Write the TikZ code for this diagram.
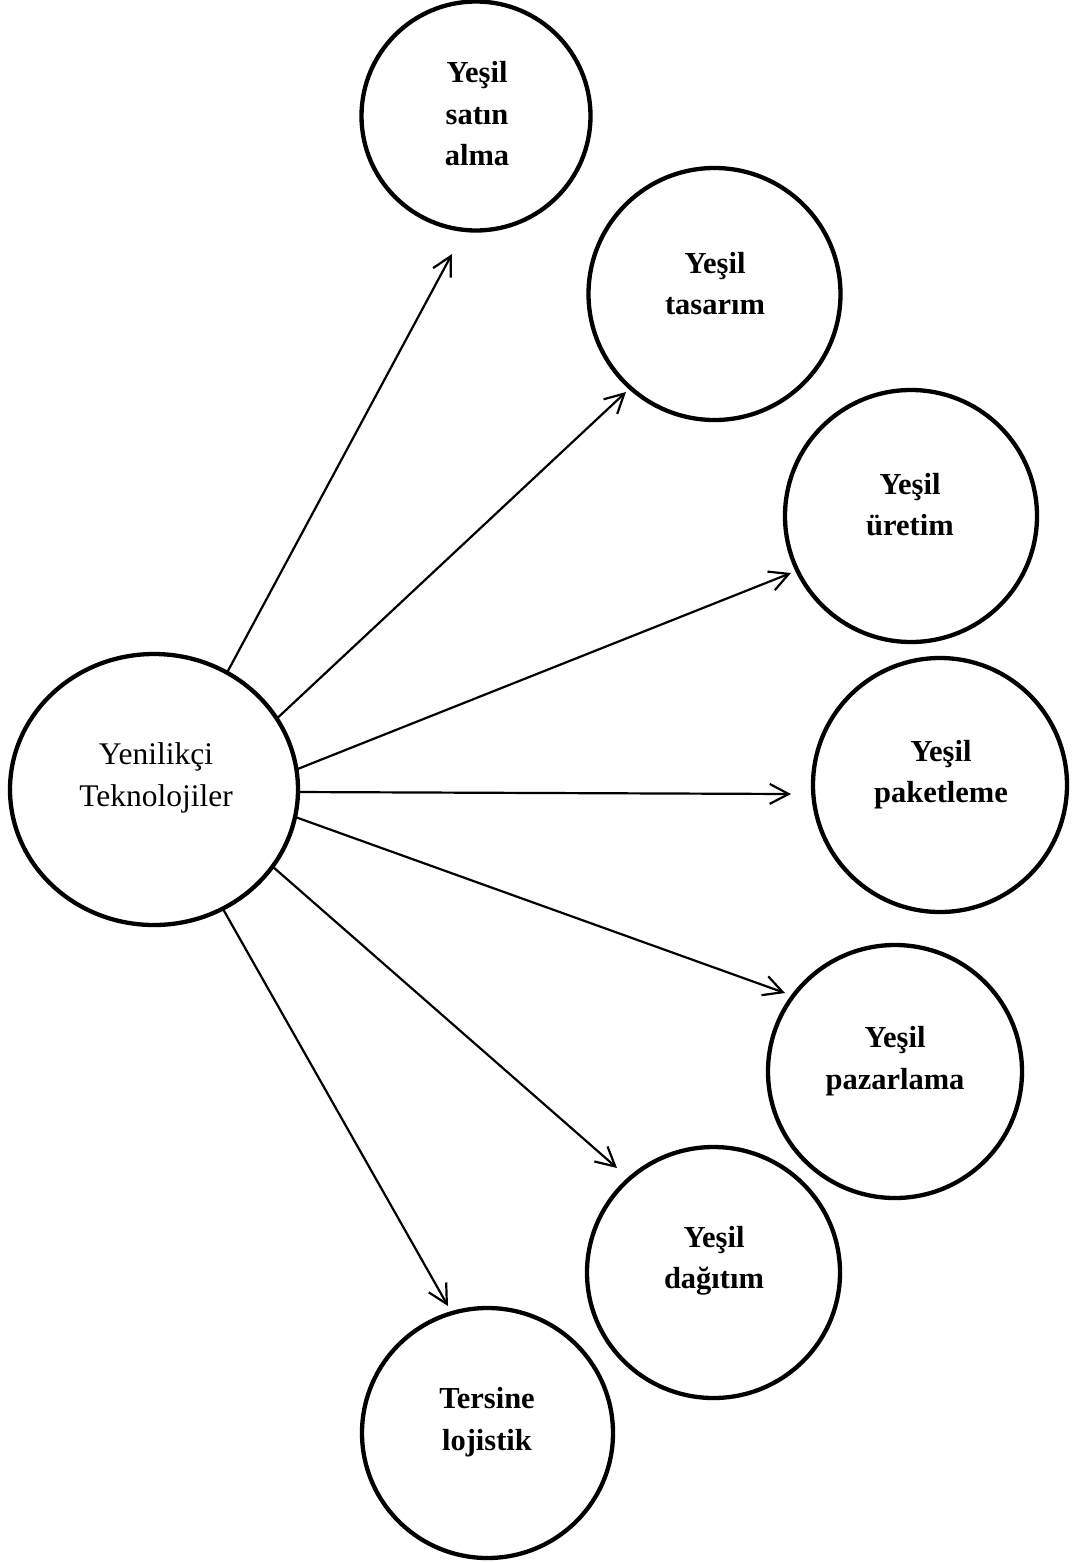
\documentclass[tikz,border=0pt]{standalone}
\usepackage{fontspec}
\setmainfont{Liberation Serif}
\usetikzlibrary{shapes.geometric,arrows.meta}
\begin{document}
\begin{tikzpicture}[x=1pt,y=-1pt,
  ring/.style={draw, line width=4.3pt, ellipse, inner sep=0pt, outer sep=0pt, minimum width=252pt, minimum height=252pt},
  lbl/.style={align=center, font=\fontsize{30.5}{41.5}\selectfont\bfseries, inner sep=0pt},
  clbl/.style={align=center, font=\fontsize{31.5}{42}\selectfont, inner sep=0pt},
  link/.style={line width=2.2pt, -{Straight Barb[length=19pt,width=20pt,line width=2.2pt]}}
]
\useasboundingbox (0,0) rectangle (1071,1563);
% central
\node[ring, minimum width=288pt, minimum height=271pt] (c) at (154,789.5) {};
\node[clbl] (ct) at (156,778) {Yenilikçi\\Teknolojiler};
% targets
\node[ring, minimum width=229pt, minimum height=229pt] (n1) at (476,116) {};
\node[lbl] (t1) at (477,114) {Yeşil\\satın\\alma};
\node[ring] (n2) at (714.5,294) {};
\node[lbl] (t2) at (715,283.5) {Yeşil\\tasarım};
\node[ring] (n3) at (911,516) {};
\node[lbl] (t3) at (910,504.5) {Yeşil\\üretim};
\node[ring, minimum width=254pt, minimum height=254pt] (n4) at (940,785) {};
\node[lbl] (t4) at (941,774.5) {Yeşil\\paketleme};
\node[ring, minimum width=254pt, minimum height=253pt] (n5) at (895,1071.5) {};
\node[lbl] (t5) at (895,1061) {Yeşil\\pazarlama};
\node[ring, minimum width=253pt, minimum height=251pt] (n6) at (713.5,1272.5) {};
\node[lbl] (t6) at (714,1261) {Yeşil\\dağıtım};
\node[ring, minimum width=251pt, minimum height=250pt] (n7) at (487.5,1433) {};
\node[lbl] (t7) at (487,1422) {Tersine\\lojistik};
% free arrow ends
\coordinate (e1) at (452,254);
\coordinate (e2) at (626,392);
\coordinate (e3) at (791,573);
\coordinate (e4) at (791,794);
\coordinate (e5) at (785,993);
\coordinate (e6) at (617,1168);
\coordinate (e7) at (448,1306);
% connectors
\draw[link] (c.58.2) -- (e1);
\draw[link] (c.30.3) -- (e2);
\draw[link] (c.8.4) -- (e3);
\draw[link] (c.-1.5) -- (e4);
\draw[link] (c.-11.9) -- (e5);
\draw[link] (c.-33.3) -- (e6);
\draw[link] (c.-60.3) -- (e7);
\end{tikzpicture}
\end{document}
